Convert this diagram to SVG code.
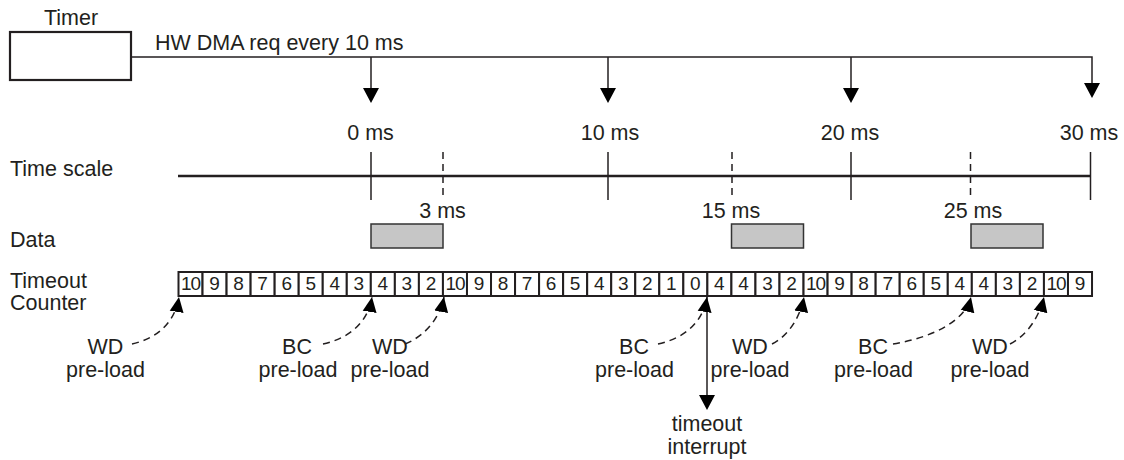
<svg xmlns="http://www.w3.org/2000/svg" width="1124" height="460" viewBox="0 0 1124 460">
<style>
text{font-family:"Liberation Sans",Arial,sans-serif;fill:#231f20}
.t{font-size:21.5px}
.m{text-anchor:middle}
.c{font-size:19px;text-anchor:middle}
.c2{font-size:19px;text-anchor:middle;letter-spacing:-1px}
.cell{fill:#fff;stroke:#231f20;stroke-width:2}
.ln{stroke:#231f20;fill:none}
.dash{stroke:#231f20;fill:none;stroke-width:1.5;stroke-dasharray:7,5}
.data{fill:#c6c6c6;stroke:#333;stroke-width:1.5}
.head{fill:#000}
</style>
<defs>
<marker id="ah" markerUnits="userSpaceOnUse" markerWidth="16" markerHeight="15" refX="15" refY="7" orient="auto" viewBox="0 0 16 14">
<path d="M0,0 L15,7 L0,14 z" fill="#000"/>
</marker>
</defs>
<g id="timer">
<rect x="10" y="32" width="121" height="48" fill="#fff" stroke="#231f20" stroke-width="2.2"/>
<text class="t m" x="71" y="25">Timer</text>
</g>
<g id="hw-label"><text class="t" x="155" y="50">HW DMA req every 10 ms</text></g>
<g id="labels-left">
<text class="t" x="10" y="176">Time scale</text>
<text class="t" x="10" y="247">Data</text>
<text class="t" x="10" y="288">Timeout</text>
<text class="t" x="10" y="310">Counter</text>
</g>
<g id="ms-labels">
<text class="t m" x="370.5" y="140">0 ms</text>
<text class="t m" x="610" y="140">10 ms</text>
<text class="t m" x="850" y="140">20 ms</text>
<text class="t m" x="1089" y="140">30 ms</text>
<text class="t m" x="442.5" y="218">3 ms</text>
<text class="t m" x="731" y="218">15 ms</text>
<text class="t m" x="973" y="218">25 ms</text>
</g>
<g id="timescale">
<line class="ln" x1="178" y1="176" x2="1091" y2="176" stroke-width="2.5"/>
<line class="ln" x1="371" y1="152" x2="371" y2="200" stroke-width="1.5"/>
<line class="ln" x1="608" y1="152" x2="608" y2="200" stroke-width="1.5"/>
<line class="ln" x1="851" y1="152" x2="851" y2="200" stroke-width="1.5"/>
<line class="ln" x1="1090.5" y1="152" x2="1090.5" y2="200" stroke-width="1.5"/>
<line class="dash" x1="443" y1="152" x2="443" y2="200"/>
<line class="dash" x1="732" y1="152" x2="732" y2="200"/>
<line class="dash" x1="970.5" y1="152" x2="970.5" y2="200"/>
</g>
<g id="data">
<rect class="data" x="371" y="224" width="72" height="24"/>
<rect class="data" x="731.5" y="224" width="72" height="24"/>
<rect class="data" x="971" y="224" width="72" height="24"/>
</g>
<g id="counter">
<rect class="cell" x="178.5" y="272" width="24.04" height="24"/><text class="c2" x="190.5" y="290">10</text>
<rect class="cell" x="202.54" y="272" width="24.04" height="24"/><text class="c" x="214.56" y="290">9</text>
<rect class="cell" x="226.58" y="272" width="24.04" height="24"/><text class="c" x="238.6" y="290">8</text>
<rect class="cell" x="250.62" y="272" width="24.04" height="24"/><text class="c" x="262.64" y="290">7</text>
<rect class="cell" x="274.66" y="272" width="24.04" height="24"/><text class="c" x="286.68" y="290">6</text>
<rect class="cell" x="298.7" y="272" width="24.04" height="24"/><text class="c" x="310.72" y="290">5</text>
<rect class="cell" x="322.74" y="272" width="24.04" height="24"/><text class="c" x="334.76" y="290">4</text>
<rect class="cell" x="346.78" y="272" width="24.04" height="24"/><text class="c" x="358.8" y="290">3</text>
<rect class="cell" x="370.82" y="272" width="24.04" height="24"/><text class="c" x="382.84" y="290">4</text>
<rect class="cell" x="394.86" y="272" width="24.04" height="24"/><text class="c" x="406.88" y="290">3</text>
<rect class="cell" x="418.9" y="272" width="24.04" height="24"/><text class="c" x="430.92" y="290">2</text>
<rect class="cell" x="442.94" y="272" width="24.04" height="24"/><text class="c2" x="455" y="290">10</text>
<rect class="cell" x="466.98" y="272" width="24.04" height="24"/><text class="c" x="479" y="290">9</text>
<rect class="cell" x="491.02" y="272" width="24.04" height="24"/><text class="c" x="503.04" y="290">8</text>
<rect class="cell" x="515.06" y="272" width="24.04" height="24"/><text class="c" x="527.08" y="290">7</text>
<rect class="cell" x="539.1" y="272" width="24.04" height="24"/><text class="c" x="551.12" y="290">6</text>
<rect class="cell" x="563.14" y="272" width="24.04" height="24"/><text class="c" x="575.16" y="290">5</text>
<rect class="cell" x="587.18" y="272" width="24.04" height="24"/><text class="c" x="599.2" y="290">4</text>
<rect class="cell" x="611.22" y="272" width="24.04" height="24"/><text class="c" x="623.24" y="290">3</text>
<rect class="cell" x="635.26" y="272" width="24.04" height="24"/><text class="c" x="647.28" y="290">2</text>
<rect class="cell" x="659.3" y="272" width="24.04" height="24"/><text class="c" x="671.32" y="290">1</text>
<rect class="cell" x="683.34" y="272" width="24.04" height="24"/><text class="c" x="695.36" y="290">0</text>
<rect class="cell" x="707.38" y="272" width="24.04" height="24"/><text class="c" x="719.4" y="290">4</text>
<rect class="cell" x="731.42" y="272" width="24.04" height="24"/><text class="c" x="743.44" y="290">4</text>
<rect class="cell" x="755.46" y="272" width="24.04" height="24"/><text class="c" x="767.48" y="290">3</text>
<rect class="cell" x="779.5" y="272" width="24.04" height="24"/><text class="c" x="791.52" y="290">2</text>
<rect class="cell" x="803.54" y="272" width="24.04" height="24"/><text class="c2" x="815.6" y="290">10</text>
<rect class="cell" x="827.58" y="272" width="24.04" height="24"/><text class="c" x="839.6" y="290">9</text>
<rect class="cell" x="851.62" y="272" width="24.04" height="24"/><text class="c" x="863.64" y="290">8</text>
<rect class="cell" x="875.66" y="272" width="24.04" height="24"/><text class="c" x="887.68" y="290">7</text>
<rect class="cell" x="899.7" y="272" width="24.04" height="24"/><text class="c" x="911.72" y="290">6</text>
<rect class="cell" x="923.74" y="272" width="24.04" height="24"/><text class="c" x="935.76" y="290">5</text>
<rect class="cell" x="947.78" y="272" width="24.04" height="24"/><text class="c" x="959.8" y="290">4</text>
<rect class="cell" x="971.82" y="272" width="24.04" height="24"/><text class="c" x="983.84" y="290">4</text>
<rect class="cell" x="995.86" y="272" width="24.04" height="24"/><text class="c" x="1007.88" y="290">3</text>
<rect class="cell" x="1019.9" y="272" width="24.04" height="24"/><text class="c" x="1031.92" y="290">2</text>
<rect class="cell" x="1043.94" y="272" width="24.04" height="24"/><text class="c2" x="1056" y="290">10</text>
<rect class="cell" x="1067.98" y="272" width="24.04" height="24"/><text class="c" x="1080" y="290">9</text>
</g>
<g id="preload-labels">
<text class="t m" x="105.5" y="354">WD</text><text class="t m" x="105.5" y="377">pre-load</text>
<text class="t m" x="297" y="354">BC</text><text class="t m" x="298" y="377">pre-load</text>
<text class="t m" x="390" y="354">WD</text><text class="t m" x="390" y="377">pre-load</text>
<text class="t m" x="634" y="354">BC</text><text class="t m" x="634.5" y="377">pre-load</text>
<text class="t m" x="750" y="354">WD</text><text class="t m" x="750" y="377">pre-load</text>
<text class="t m" x="873" y="354">BC</text><text class="t m" x="873.5" y="377">pre-load</text>
<text class="t m" x="990" y="354">WD</text><text class="t m" x="990" y="377">pre-load</text>
<text class="t m" x="707" y="431">timeout</text><text class="t m" x="707" y="454">interrupt</text>
</g>
<g id="connectors">
<path class="ln" stroke-width="1.5" d="M131,57 H1092 V83"/>
<line class="ln" stroke-width="1.5" x1="371" y1="57" x2="371" y2="88"/>
<line class="ln" stroke-width="1.5" x1="608" y1="57" x2="608" y2="88"/>
<line class="ln" stroke-width="1.5" x1="851" y1="57" x2="851" y2="88"/>
<path class="head" d="M363,88 L379,88 L371,103 z"/>
<path class="head" d="M600,88 L616,88 L608,103 z"/>
<path class="head" d="M843,88 L859,88 L851,103 z"/>
<path class="head" d="M1084,83 L1100,83 L1092,98 z"/>
<line class="ln" stroke-width="1.5" x1="707" y1="296" x2="707" y2="396"/>
<path class="head" d="M699,395 L715,395 L707,410 z"/>
<path class="dash" marker-end="url(#ah)" d="M132,344 C158,338 175,322 179,297"/>
<path class="dash" marker-end="url(#ah)" d="M323,344 C350,338 368,322 372,297"/>
<path class="dash" marker-end="url(#ah)" d="M405,344 C425,336 440,318 444,297"/>
<path class="dash" marker-end="url(#ah)" d="M658,344 C685,338 703,322 707,297"/>
<path class="dash" marker-end="url(#ah)" d="M772,344 C788,336 800,318 804,297"/>
<path class="dash" marker-end="url(#ah)" d="M893,344 C930,338 965,322 971,297"/>
<path class="dash" marker-end="url(#ah)" d="M1010,344 C1026,336 1039,318 1044,297"/>
</g>
</svg>
